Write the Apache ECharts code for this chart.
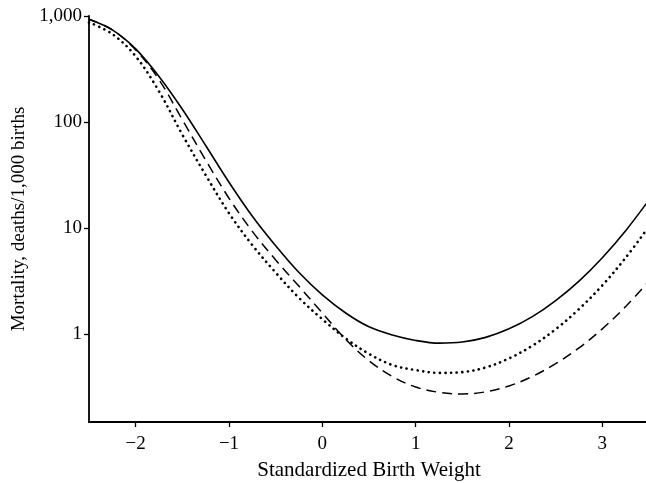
<!DOCTYPE html>
<html>
<head>
<meta charset="utf-8">
<script src="https://cdn.jsdelivr.net/npm/echarts@6/dist/echarts.min.js"></script>
<style>
  html, body { margin: 0; padding: 0; background: #fff; }
  #chart { width: 646px; height: 483px; }
</style>
</head>
<body>
<div id="chart"></div>
<script>
// standardized birth weight (x)
var weights = [-2.5, -2.25, -2, -1.75, -1.5, -1.25, -1, -0.75, -0.5, -0.25, 0, 0.25, 0.5,
	0.75, 1, 1.25, 1.5, 1.75, 2, 2.25, 2.5, 2.75, 3, 3.25, 3.5];

// mortality, deaths per 1,000 births
var solidVals = [933, 741, 490, 269, 132, 60, 27, 12.9, 6.8, 3.8, 2.34, 1.58, 1.17,
	0.98, 0.87, 0.82, 0.84, 0.93, 1.12, 1.46, 2.07, 3.16, 5.25, 9.44, 18.4];
var dottedVals = [871, 676, 417, 195, 76, 31.6, 13.8, 6.9, 3.8, 2.19, 1.38, 0.91, 0.65,
	0.51, 0.457, 0.43, 0.437, 0.484, 0.589, 0.776, 1.11, 1.72, 2.88, 5.25, 10.35];
var dashedVals = [933, 741, 479, 251, 105, 43.7, 19.1, 9.3, 5.0, 2.82, 1.58, 0.89, 0.56,
	0.398, 0.316, 0.282, 0.272, 0.285, 0.324, 0.398, 0.525, 0.74, 1.12, 1.82, 3.16];

var yTickLabels = { 1: '1', 10: '10', 100: '100', 1000: '1,000' };

var font = '"Liberation Serif", "Times New Roman", serif';

function pairs(vals) {
	var out = [];
	for (var i = 0; i < weights.length; i++) {
		out.push([weights[i], vals[i]]);
	}
	return out;
}

function curve(vals, style) {
	return {
		type: 'line',
		data: pairs(vals),
		smooth: 0.35,
		showSymbol: false,
		silent: true,
		lineStyle: style
	};
}

var chart = echarts.init(document.getElementById('chart'));
var option = {
	animation: false,
	backgroundColor: '#fff',
	grid: { left: 89, top: 16, right: -3, bottom: 61, containLabel: false, outerBoundsMode: 'none' },
	xAxis: {
		type: 'value',
		min: -2.5,
		max: 3.5,
		splitNumber: 6,
		name: 'Standardized Birth Weight',
		nameLocation: 'middle',
		nameGap: 38,
		nameTextStyle: { fontFamily: font, fontSize: 21, color: '#000' },
		axisLine: { onZero: false, lineStyle: { color: '#000', width: 1.8 } },
		axisTick: { inside: false, length: 5, lineStyle: { color: '#000', width: 1.3 } },
		axisLabel: {
			showMinLabel: false,
			showMaxLabel: false,
			margin: 13,
			fontFamily: font,
			fontSize: 19,
			color: '#000',
			formatter: function (v) {
				return String(v).replace('-', '\u2212');
			}
		},
		splitLine: { show: false }
	},
	yAxis: {
		type: 'log',
		logBase: 10,
		min: 0.148,
		max: 1000,
		name: 'Mortality, deaths/1,000 births',
		nameLocation: 'middle',
		nameGap: 54,
		nameTextStyle: { fontFamily: font, fontSize: 19, color: '#000' },
		axisLine: { show: true, onZero: false, lineStyle: { color: '#000', width: 1.8 } },
		axisTick: { show: true, inside: false, length: 5, lineStyle: { color: '#000', width: 1.3 } },
		axisLabel: {
			showMinLabel: false,
			margin: 7,
			fontFamily: font,
			fontSize: 19,
			color: '#000',
			formatter: function (v) {
				var key = Math.round(v);
				return yTickLabels[key] !== undefined && Math.abs(v - key) < 1e-6 ? yTickLabels[key] : '';
			}
		},
		splitLine: { show: false }
	},
	series: [
		curve(solidVals, { color: '#000', width: 1.6, type: 'solid' }),
		curve(dottedVals, { color: '#000', width: 2.6, type: [0.1, 5.5], cap: 'round' }),
		curve(dashedVals, { color: '#000', width: 1.5, type: [10, 6] })
	]
};
chart.setOption(option);
</script>
</body>
</html>
